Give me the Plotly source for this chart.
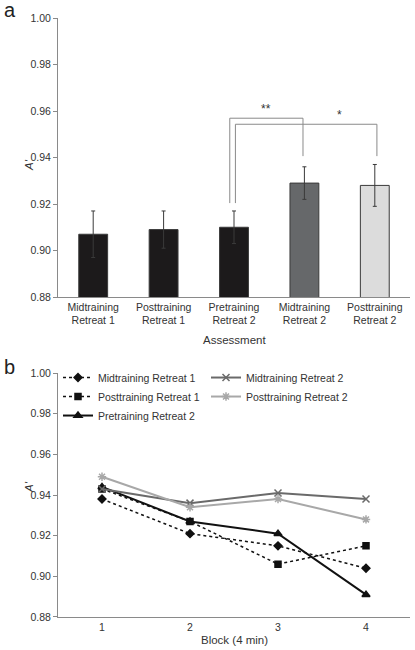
import plotly.graph_objects as go

# ---- Panel a data ----
assessments = ["Midtraining<br>Retreat 1", "Posttraining<br>Retreat 1", "Pretraining<br>Retreat 2",
               "Midtraining<br>Retreat 2", "Posttraining<br>Retreat 2"]
bar_values = [0.907, 0.909, 0.910, 0.929, 0.928]
bar_errors = [0.010, 0.008, 0.007, 0.007, 0.009]
bar_colors = ["#1c1a1b", "#1c1a1b", "#1c1a1b", "#66686a", "#dcdcdc"]

# ---- Panel b data ----
blocks = [1, 2, 3, 4]
series_names = ["Midtraining Retreat 1", "Posttraining Retreat 1", "Pretraining Retreat 2",
                "Midtraining Retreat 2", "Posttraining Retreat 2"]
mid_r1 = [0.938, 0.921, 0.915, 0.904]
post_r1 = [0.943, 0.927, 0.906, 0.915]
pre_r2 = [0.944, 0.927, 0.921, 0.891]
mid_r2 = [0.943, 0.936, 0.941, 0.938]
post_r2 = [0.949, 0.934, 0.938, 0.928]
yticks = [0.88, 0.90, 0.92, 0.94, 0.96, 0.98, 1.00]

FONT = "Liberation Sans, Arial, sans-serif"
TXT = "#333333"
AX = "#8a8a8a"
FS = 10.5

fig = go.Figure()

xi = list(range(len(assessments)))
fig.add_trace(go.Bar(
    x=xi, y=bar_values, width=0.41,
    marker=dict(color=bar_colors, line=dict(color="#3a3a3a", width=1)),
    error_y=dict(type="data", array=bar_errors, color="#3a3a3a", thickness=1, width=2),
    showlegend=False, xaxis="x", yaxis="y"))

styles = [
    dict(sym="diamond", dash="dot", color="#111111", width=1.5, size=6),
    dict(sym="square", dash="dot", color="#111111", width=1.5, size=6),
    dict(sym="triangle-up", dash="solid", color="#111111", width=2, size=7),
    dict(sym="x-thin-open", dash="solid", color="#6a6a6a", width=2, size=7),
    dict(sym="asterisk-open", dash="solid", color="#a8a8a8", width=2, size=7),
]
ranks = [1, 3, 5, 2, 4]
for name, vals, st, rk in zip(series_names, [mid_r1, post_r1, pre_r2, mid_r2, post_r2], styles, ranks):
    fig.add_trace(go.Scatter(
        x=blocks, y=vals, name=name, mode="lines+markers", legendrank=rk,
        line=dict(color=st["color"], width=st["width"], dash=st["dash"]),
        marker=dict(symbol=st["sym"], size=st["size"], color=st["color"],
                    line=dict(color=st["color"], width=1.5)),
        xaxis="x2", yaxis="y2"))

axis_common = dict(showline=True, linecolor=AX, linewidth=1, showgrid=False, zeroline=False,
                   automargin=False, tickfont=dict(family=FONT, size=FS, color=TXT))

fig.update_layout(
    width=415, height=650,
    margin=dict(l=58, r=5, t=18, b=33, autoexpand=False),
    paper_bgcolor="white", plot_bgcolor="white",
    font=dict(family=FONT, size=FS, color=TXT),
    xaxis=dict(**axis_common, domain=[0, 1], range=[-0.5, 4.5], tickvals=xi, ticktext=assessments,
               ticks="", anchor="y"),
    yaxis=dict(**axis_common, domain=[0.5342, 1], range=[0.88, 1.0], tickvals=yticks,
               tickformat=".2f", ticks="outside", ticklen=4, tickcolor=AX, anchor="x"),
    xaxis2=dict(**axis_common, domain=[0, 1], range=[0.5, 4.5], tickvals=blocks, ticks="",
                anchor="y2"),
    yaxis2=dict(**axis_common, domain=[0, 0.4073], range=[0.88, 1.0], tickvals=yticks,
                tickformat=".2f", ticks="outside", ticklen=4, tickcolor=AX, anchor="x2"),
    legend=dict(orientation="h", x=0.0, y=0.4073 + 10 / 599, xanchor="left", yanchor="top",
                entrywidth=103, entrywidthmode="pixels", traceorder="normal",
                font=dict(family=FONT, size=FS, color=TXT), bgcolor="rgba(0,0,0,0)",
                tracegroupgap=0, itemwidth=30),
    bargap=0.4,
)

# significance brackets (panel a)
br = dict(type="line", xref="x", yref="y", line=dict(color="#8a8a8a", width=1))
fig.add_shape(**br, x0=1.94, x1=1.94, y0=0.9204, y1=0.9569)
fig.add_shape(**br, x0=1.94, x1=2.98, y0=0.9569, y1=0.9569)
fig.add_shape(**br, x0=2.98, x1=2.98, y0=0.9569, y1=0.9406)
fig.add_shape(**br, x0=2.02, x1=2.02, y0=0.9204, y1=0.9543)
fig.add_shape(**br, x0=2.02, x1=4.03, y0=0.9543, y1=0.9543)
fig.add_shape(**br, x0=4.03, x1=4.03, y0=0.9543, y1=0.9406)

fig.add_annotation(x=2.46, y=0.9569, xref="x", yref="y", text="**", showarrow=False,
                   yanchor="bottom", font=dict(size=12, color=TXT))
fig.add_annotation(x=3.5, y=0.9543, xref="x", yref="y", text="*", showarrow=False,
                   yanchor="bottom", font=dict(size=12, color=TXT))

# axis titles
fig.add_annotation(x=0.5, y=(617 - 340) / 599, xref="paper", yref="paper", text="Assessment",
                   showarrow=False, yanchor="middle", font=dict(size=11.5, color=TXT))
fig.add_annotation(x=0.5, y=(617 - 640) / 599, xref="paper", yref="paper", text="Block (4 min)",
                   showarrow=False, yanchor="middle", font=dict(size=11.5, color=TXT))

# panel letters and y titles
fig.add_annotation(x=-0.16, y=(617 - 9.5) / 599, xref="paper", yref="paper", text="a", showarrow=False,
                   xanchor="left", yanchor="middle", font=dict(size=20, color="#222222"))
fig.add_annotation(x=-0.16, y=(617 - 367) / 599, xref="paper", yref="paper", text="b", showarrow=False,
                   xanchor="left", yanchor="middle", font=dict(size=20, color="#222222"))
fig.add_annotation(x=(21 - 58) / 352, y=(617 - 157) / 599, xref="paper", yref="paper", text="<i>A'</i>",
                   showarrow=False, textangle=-90, font=dict(size=11.5, color=TXT))
fig.add_annotation(x=(21 - 58) / 352, y=(617 - 495) / 599, xref="paper", yref="paper", text="<i>A'</i>",
                   showarrow=False, textangle=-90, font=dict(size=11.5, color=TXT))

fig.write_html("out.html", config={"displayModeBar": False},
               post_script="document.body.style.margin='0';")
